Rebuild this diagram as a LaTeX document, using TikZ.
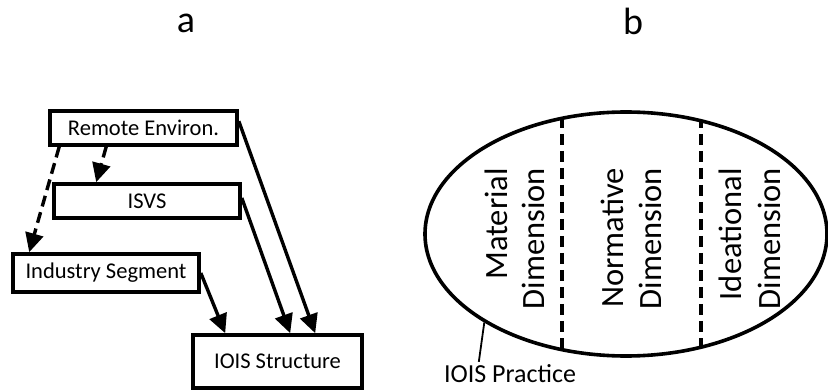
\documentclass[tikz,border=0pt]{standalone}
\usepackage{fontspec}
\setmainfont{Carlito}
\usetikzlibrary{arrows.meta,calc,shapes.geometric}
\begin{document}
\begin{tikzpicture}[x=1pt,y=-1pt,
  box/.style={draw,line width=3.6pt,inner sep=0pt,font=\fontsize{22.5}{26}\selectfont},
  arr/.style={line width=3.4pt,-{Triangle[length=19pt,width=18pt]}},
  darr/.style={arr,dash pattern=on 11pt off 6pt},
  divider/.style={line width=3.6pt,dash pattern=on 11pt off 6pt},
  dimtext/.style={rotate=90,anchor=base east,inner sep=0pt,font=\fontsize{32.5}{38}\selectfont},
  title/.style={anchor=base,inner sep=0pt,font=\fontsize{38}{44}\selectfont},
  lbl/.style={anchor=base,inner sep=0pt,font=\fontsize{26}{30}\selectfont}]
\useasboundingbox (0,0) rectangle (828,390);

% titles
\node[title] (ta) at (186,33) {a};
\node[title] (tb) at (633,35) {b};

% panel a
\node[box,minimum width=187pt,minimum height=34pt] (re) at (143.5,128) {Remote Environ.};
\node[box,minimum width=186pt,minimum height=34pt] (isvs) at (147,201) {ISVS};
\node[box,minimum width=186pt,minimum height=38pt] (ind) at (106,273) {Industry Segment};
\node[box,minimum width=169pt,minimum height=53pt] (ios) at (277.5,361.5) {IOIS Structure};

\draw[darr] ($(re.south west)+(11,0)$) -- ($(ind.north west)+(18,0)$);
\draw[darr] ($(re.south west)+(58,0)$) -- ($(isvs.north west)+(44,0)$);
\draw[arr] (ind.east) -- ($(ios.north west)+(34,0)$);
\draw[arr] ($(isvs.east)+(0,-3)$) -- ($(ios.north west)+(99,0)$);
\draw[arr] ($(re.north east)+(0,12)$) -- ($(ios.north west)+(124,0)$);

% panel b
\node[draw,ellipse,line width=3.6pt,inner sep=0pt,minimum width=402pt,minimum height=244pt] (pr) at (626,234) {};
\begin{scope}
  \clip (626,234) ellipse (201pt and 122pt);
  \draw[divider] (562,100) -- (562,370);
  \draw[divider] (701,100) -- (701,370);
\end{scope}

\node[dimtext] (m1) at (507,168) {Material};
\node[dimtext] (m2) at (544,168) {Dimension};
\node[dimtext] (n1) at (623,168) {Normative};
\node[dimtext] (n2) at (661,168) {Dimension};
\node[dimtext] (i1) at (741,168) {Ideational};
\node[dimtext] (i2) at (780,168) {Dimension};

\node[lbl] (ip) at (510,382) {IOIS Practice};
\draw[line width=1.8pt] ($(ip.north west)+(35,-2)$) -- (pr.212);
\end{tikzpicture}
\end{document}
